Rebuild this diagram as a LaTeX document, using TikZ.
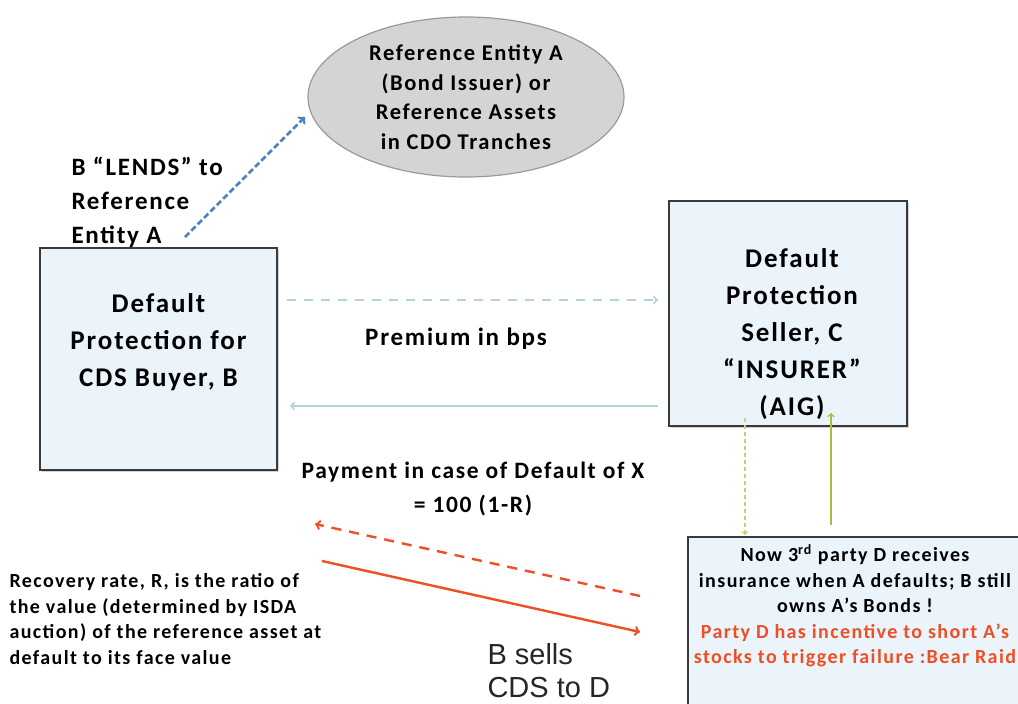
\documentclass[tikz,border=0pt]{standalone}
\usepackage{fontspec}
\setmainfont{Carlito}[LetterSpace=7]
\newfontfamily\arialfont{Liberation Sans}
\usepackage{tikz}
\usetikzlibrary{arrows,shapes.geometric,shadows}

\definecolor{boxfill}{HTML}{EAF4FA}
\definecolor{boxline}{HTML}{3A3A3A}
\definecolor{ellfill}{HTML}{D4D4D4}
\definecolor{ellline}{HTML}{9A9A9A}
\definecolor{lendblue}{HTML}{4F81BD}
\definecolor{paleblue}{HTML}{B4D2DC}
\definecolor{limegreen}{HTML}{A2C23A}
\definecolor{raidred}{HTML}{EE4F24}

\begin{document}
\begin{tikzpicture}[x=1pt,y=-1pt,
    party/.style={draw=boxline, line width=1.6pt, fill=boxfill,
        drop shadow={opacity=0.35, shadow xshift=2pt, shadow yshift=-2pt}},
    entity/.style={ellipse, draw=ellline, line width=1.2pt, fill=ellfill,
        minimum width=316pt, minimum height=160pt, align=center,
        font=\bfseries\fontsize{22.5}{29.5}\selectfont},
    lbl/.style={font=\bfseries\fontsize{25}{34}\selectfont},
    small/.style={font=\bfseries\fontsize{20}{25.5}\selectfont},
    flow/.style={->, line width=2pt}]

\clip (0,0) rectangle (1018,704);
\fill[white] (0,0) rectangle (1018,704);

% the three parties
\draw[party] (40,248) rectangle (277,470);
\draw[party] (669,201) rectangle (907,426);
\draw[party] (688,537) rectangle (1040,730);

\node (buyer) at (158.5,359) {};
\node (seller) at (788,313.5) {};
\node (thirdparty) at (864,620) {};

\node [align=center, font=\bfseries\fontsize{27}{37}\selectfont]
    at (158.5,342) {Default\\Protection for\\CDS Buyer, B};
\node [align=center, font=\bfseries\fontsize{27}{37}\selectfont]
    at (792,334) {Default\\Protection\\Seller, C\\“INSURER”\\(AIG)};

\node [align=center, small] at (855,606)
    {Now 3\textsuperscript{rd} party D receives\\
     insurance when A defaults; B still\\
     owns A’s Bonds !\\
     \color{raidred}Party D has incentive to short A’s\\
     \color{raidred}stocks to trigger failure :Bear Raid};

% reference entity
\node [entity] (refentity) at (466,97)
    {Reference Entity A\\(Bond Issuer) or\\Reference Assets\\in CDO Tranches};

\node [align=left, anchor=west, lbl] at (68,202)
    {B “LENDS” to\\Reference\\Entity A};

\coordinate (lendstart) at (185,237);
\coordinate (lendend) at (305,117);
\draw [flow, lendblue, line width=2.6pt, dash pattern=on 6pt off 3pt] (lendstart) -- (lendend);

% premium leg and protection leg
\draw [flow, paleblue, dash pattern=on 9pt off 8pt]
    (buyer.center |- 0,300) ++(128,0) coordinate (premstart) -- (658,300) coordinate (premend);
\draw [flow, paleblue] (seller.center |- 0,406) ++(-130,0) coordinate (protstart) -- (290,406) coordinate (protend);

\node [lbl] at (456,339) {Premium in bps};

\node [align=center, font=\bfseries\fontsize{23.5}{34}\selectfont] at (473,489)
    {Payment in case of Default of X\\= 100 (1-R)};

% C and D
\coordinate (insdown1) at (745,418);
\coordinate (insdown2) at (745,535);
\coordinate (insup1) at (831,525);
\coordinate (insup2) at (831,413);
\draw [flow, limegreen!70, line width=1.4pt, dash pattern=on 4pt off 3pt] (insdown1) -- (insdown2);
\draw [flow, limegreen, line width=1.6pt] (insup1) -- (insup2);

% B and D
\coordinate (paystart) at (640,596);
\coordinate (payend) at (315,524);
\coordinate (sellstart) at (322,561);
\coordinate (sellend) at (640,632);
\draw [flow, raidred, line width=2.4pt, dash pattern=on 10pt off 8pt] (paystart) -- (payend);
\draw [flow, raidred, line width=2.4pt] (sellstart) -- (sellend);

\node [align=left, anchor=north west, small] at (6,570)
    {Recovery rate, R, is the ratio of\\
     the value (determined by ISDA\\
     auction) of the reference asset at\\
     default to its face value};

\node [align=left, anchor=north west, font=\arialfont\fontsize{29}{33}\selectfont,
    text=black!85] at (484,640) {B sells\\CDS to D};

\end{tikzpicture}
\end{document}
